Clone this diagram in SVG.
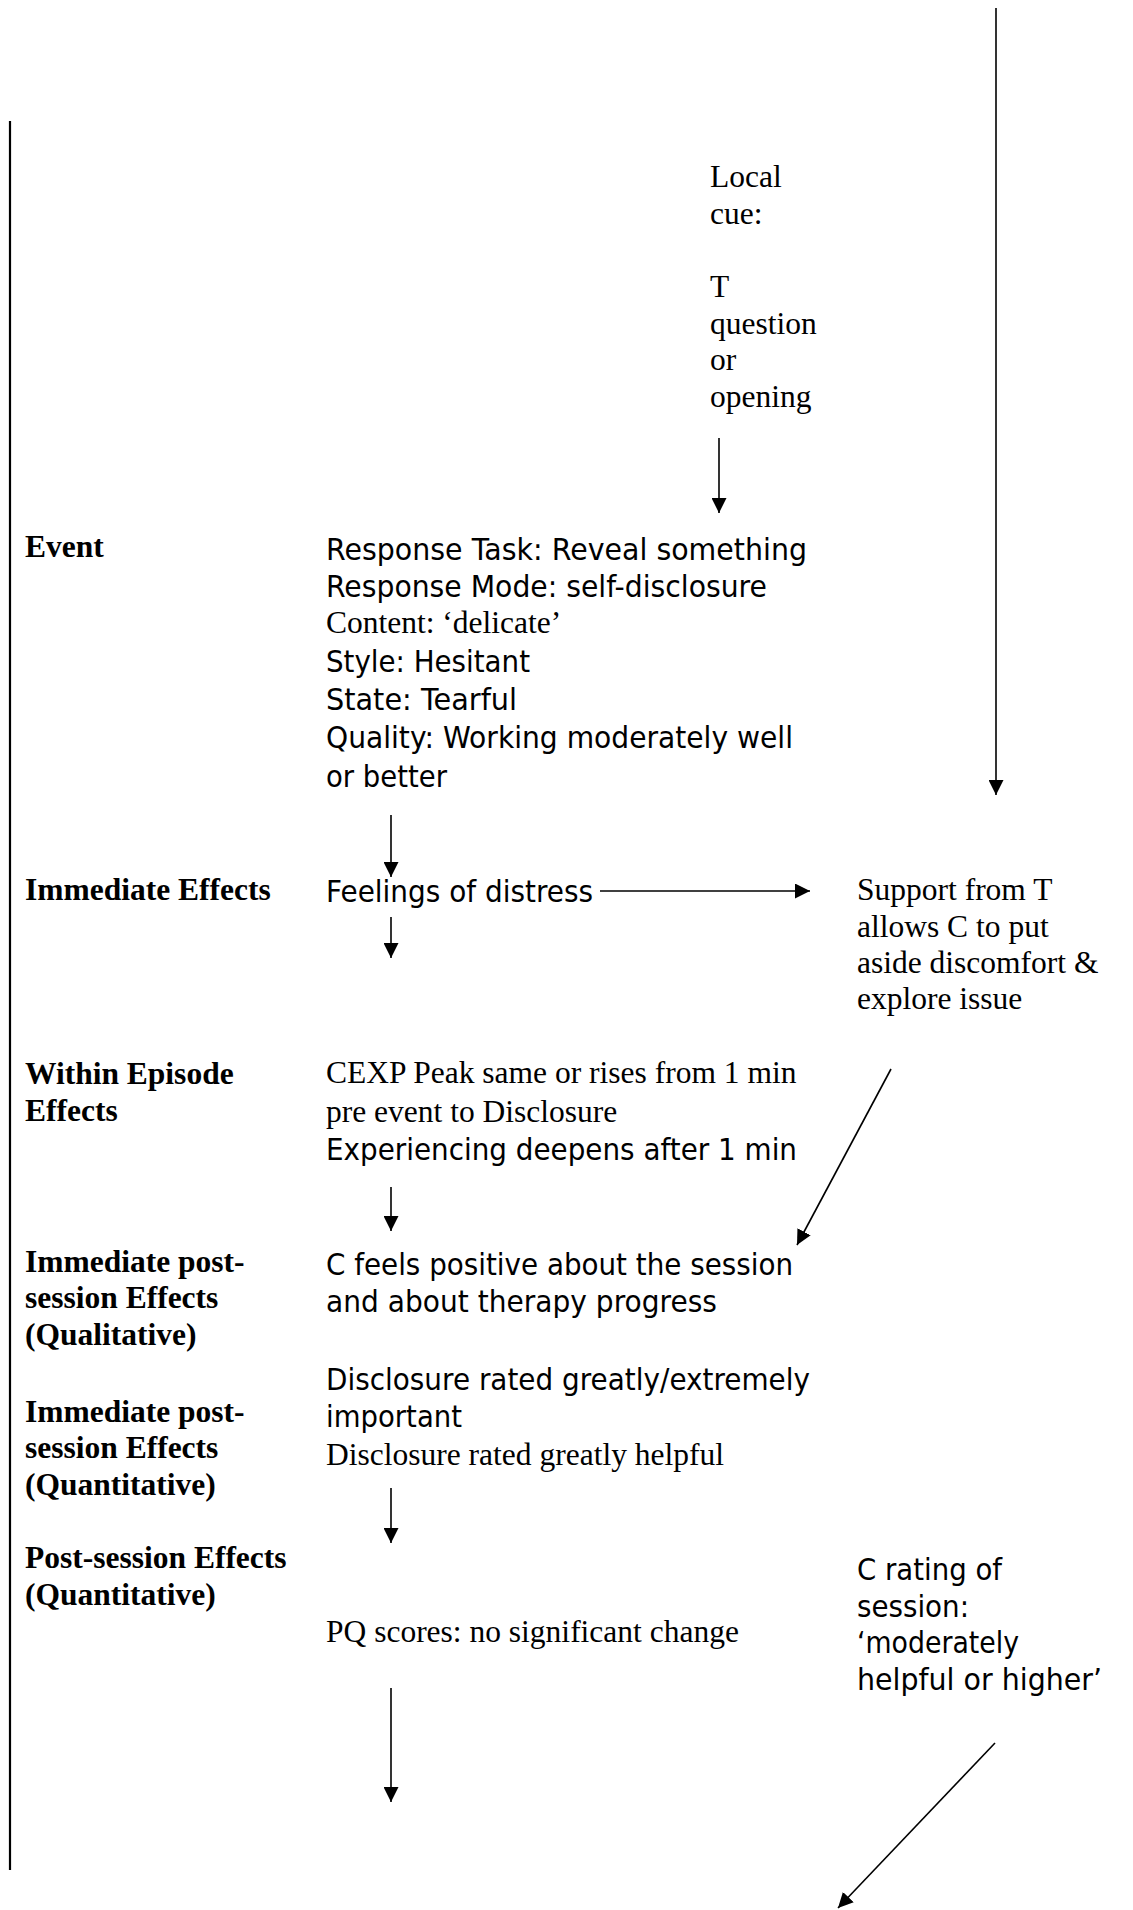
<svg xmlns="http://www.w3.org/2000/svg" width="1133" height="1910" viewBox="0 0 1133 1910">
  <defs>
    <style>
      .serif { font-family: "Liberation Serif", "Times New Roman", serif; font-size: 31.5px; fill: #000; }
      .bold { font-family: "Liberation Serif", "Times New Roman", serif; font-size: 31.5px; font-weight: bold; fill: #000; }
      .sans { font-family: "DejaVu Sans", Verdana, sans-serif; font-size: 29.5px; fill: #000; }
      .frame { stroke: #000; stroke-width: 2.2; fill: none; }
      .conn { stroke: #000; stroke-width: 1.6; fill: none; marker-end: url(#arrow); }
    </style>
    <marker id="arrow" viewBox="0 0 15 15" markerUnits="userSpaceOnUse" markerWidth="15" markerHeight="15" refX="15" refY="7.5" orient="auto">
      <path d="M0,0 L15,7.5 L0,15 z" fill="#000"/>
    </marker>
  </defs>
  <rect width="1133" height="1910" fill="#fff"/>

  <g id="frame">
    <line class="frame" x1="10" y1="121" x2="10" y2="1870"/>
  </g>

  <g id="label-event">
    <text class="bold" x="25" y="557">Event</text>
  </g>
  <g id="label-immediate-effects">
    <text class="bold" x="25" y="900">Immediate Effects</text>
  </g>
  <g id="label-within-episode">
    <text class="bold" x="25" y="1084">Within Episode</text>
    <text class="bold" x="25" y="1121">Effects</text>
  </g>
  <g id="label-post-qual">
    <text class="bold" x="25" y="1272">Immediate post-</text>
    <text class="bold" x="25" y="1308">session Effects</text>
    <text class="bold" x="25" y="1345">(Qualitative)</text>
  </g>
  <g id="label-post-quant">
    <text class="bold" x="25" y="1422">Immediate post-</text>
    <text class="bold" x="25" y="1458">session Effects</text>
    <text class="bold" x="25" y="1495">(Quantitative)</text>
  </g>
  <g id="label-post-session">
    <text class="bold" x="25" y="1568">Post-session Effects</text>
    <text class="bold" x="25" y="1605">(Quantitative)</text>
  </g>

  <g id="node-local-cue">
    <text class="serif" x="710" y="187">Local</text>
    <text class="serif" x="710" y="224">cue:</text>
    <text class="serif" x="710" y="297">T</text>
    <text class="serif" x="710" y="334">question</text>
    <text class="serif" x="710" y="370">or</text>
    <text class="serif" x="710" y="407">opening</text>
  </g>

  <g id="node-event">
    <text class="sans" x="326" y="560" textLength="481" lengthAdjust="spacingAndGlyphs">Response Task: Reveal something</text>
    <text class="sans" x="326" y="597" textLength="441" lengthAdjust="spacingAndGlyphs">Response Mode: self-disclosure</text>
    <text class="serif" x="326" y="633">Content: ‘delicate’</text>
    <text class="sans" x="326" y="672" textLength="204" lengthAdjust="spacingAndGlyphs">Style: Hesitant</text>
    <text class="sans" x="326" y="710" textLength="191" lengthAdjust="spacingAndGlyphs">State: Tearful</text>
    <text class="sans" x="326" y="748" textLength="467" lengthAdjust="spacingAndGlyphs">Quality: Working moderately well</text>
    <text class="sans" x="326" y="787" textLength="121" lengthAdjust="spacingAndGlyphs">or better</text>
  </g>

  <g id="node-feelings">
    <text class="sans" x="326" y="902" textLength="267" lengthAdjust="spacingAndGlyphs">Feelings of distress</text>
  </g>

  <g id="node-support">
    <text class="serif" x="857" y="900">Support from T</text>
    <text class="serif" x="857" y="937">allows C to put</text>
    <text class="serif" x="857" y="973">aside discomfort &amp;</text>
    <text class="serif" x="857" y="1009">explore issue</text>
  </g>

  <g id="node-within">
    <text class="serif" x="326" y="1083">CEXP Peak same or rises from 1 min</text>
    <text class="serif" x="326" y="1122">pre event to Disclosure</text>
    <text class="sans" x="326" y="1160" textLength="471" lengthAdjust="spacingAndGlyphs">Experiencing deepens after 1 min</text>
  </g>

  <g id="node-post-qual">
    <text class="sans" x="326" y="1275" textLength="467" lengthAdjust="spacingAndGlyphs">C feels positive about the session</text>
    <text class="sans" x="326" y="1312" textLength="391" lengthAdjust="spacingAndGlyphs">and about therapy progress</text>
  </g>

  <g id="node-post-quant">
    <text class="sans" x="326" y="1390" textLength="484" lengthAdjust="spacingAndGlyphs">Disclosure rated greatly/extremely</text>
    <text class="sans" x="326" y="1427" textLength="136" lengthAdjust="spacingAndGlyphs">important</text>
    <text class="serif" x="326" y="1465">Disclosure rated greatly helpful</text>
  </g>

  <g id="node-pq">
    <text class="serif" x="326" y="1642">PQ scores: no significant change</text>
  </g>

  <g id="node-c-rating">
    <text class="sans" x="857" y="1580" textLength="145" lengthAdjust="spacingAndGlyphs">C rating of</text>
    <text class="sans" x="857" y="1617" textLength="112" lengthAdjust="spacingAndGlyphs">session:</text>
    <text class="sans" x="857" y="1653" textLength="162" lengthAdjust="spacingAndGlyphs">‘moderately</text>
    <text class="sans" x="857" y="1690" textLength="245" lengthAdjust="spacingAndGlyphs">helpful or higher’</text>
  </g>

  <g id="connectors">
    <line class="conn" x1="996" y1="8" x2="996" y2="795"/>
    <line class="conn" x1="719" y1="438" x2="719" y2="513"/>
    <line class="conn" x1="391" y1="815" x2="391" y2="877"/>
    <line class="conn" x1="600" y1="891" x2="810" y2="891"/>
    <line class="conn" x1="391" y1="917" x2="391" y2="958"/>
    <line class="conn" x1="891" y1="1069" x2="797" y2="1245"/>
    <line class="conn" x1="391" y1="1187" x2="391" y2="1231"/>
    <line class="conn" x1="391" y1="1488" x2="391" y2="1543"/>
    <line class="conn" x1="391" y1="1688" x2="391" y2="1802"/>
    <line class="conn" x1="995" y1="1743" x2="838" y2="1908"/>
  </g>
</svg>
